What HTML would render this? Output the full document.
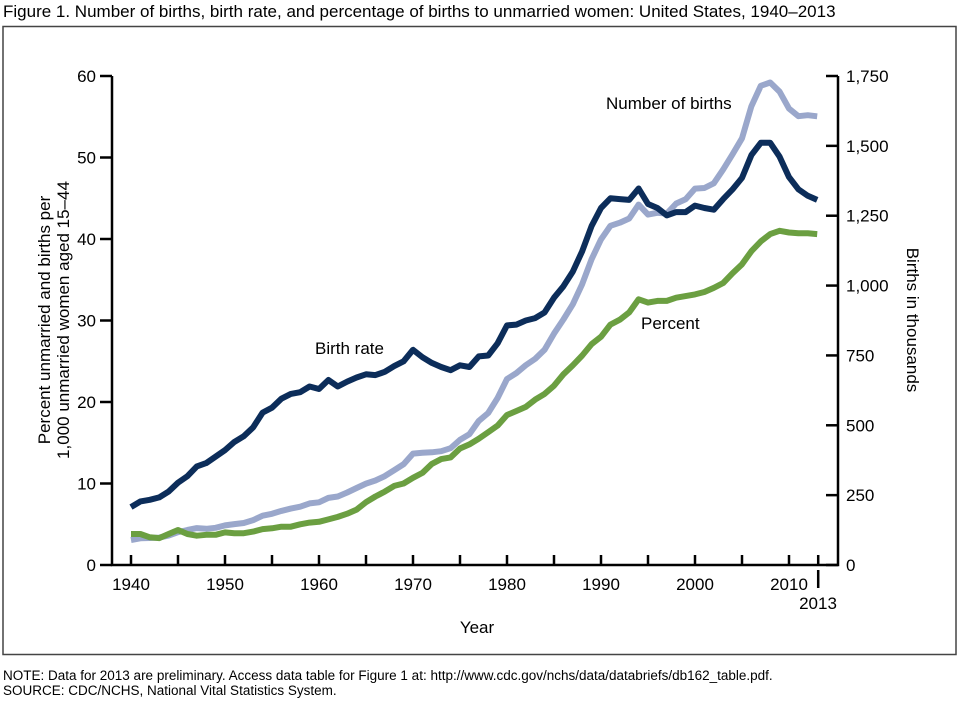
<!DOCTYPE html>
<html><head><meta charset="utf-8"><style>
body{margin:0;background:#fff;}
svg text{font-family:"Liberation Sans",Arial,sans-serif;fill:#000;}
</style></head><body>
<svg width="960" height="701" viewBox="0 0 960 701" xmlns="http://www.w3.org/2000/svg">
<text x="3" y="17" font-size="17">Figure 1. Number of births, birth rate, and percentage of births to unmarried women: United States, 1940–2013</text>
<rect x="3" y="26.5" width="953" height="628" fill="none" stroke="#444" stroke-width="1.5"/>
<g id="plot"></g>
<g stroke="#000" stroke-width="2.5" fill="none">
<path d="M112 76V565H838V76"/>
</g>
<g id="ticks" stroke="#000" stroke-width="2.5"></g>
<g font-size="17" text-anchor="end" id="yl"></g>
<g font-size="17" id="yr"></g>
<g font-size="17" text-anchor="middle" id="xl"></g>
<text x="818" y="609" font-size="17" text-anchor="middle">2013</text>
<text x="477" y="633" font-size="17" text-anchor="middle">Year</text>
<text transform="translate(50,320) rotate(-90)" font-size="17" text-anchor="middle">Percent unmarried and births per</text>
<text transform="translate(69,320) rotate(-90)" font-size="17" text-anchor="middle">1,000 unmarried women aged 15–44</text>
<text transform="translate(907,320) rotate(90)" font-size="17" text-anchor="middle">Births in thousands</text>
<text x="606" y="109" font-size="17">Number of births</text>
<text x="315" y="354" font-size="17">Birth rate</text>
<text x="641" y="329" font-size="17">Percent</text>
<text x="3" y="680" font-size="13.5">NOTE: Data for 2013 are preliminary. Access data table for Figure 1 at: http://www.cdc.gov/nchs/data/databriefs/db162_table.pdf.</text>
<text x="3" y="695" font-size="13.5">SOURCE: CDC/NCHS, National Vital Statistics System.</text>
</svg>
<script>
var rate=[7.1,7.8,8.0,8.3,9.0,10.1,10.9,12.1,12.5,13.3,14.1,15.1,15.8,16.9,18.7,19.3,20.4,21.0,21.2,21.9,21.6,22.7,21.9,22.5,23.0,23.4,23.3,23.7,24.4,25.0,26.4,25.5,24.8,24.3,23.9,24.5,24.3,25.6,25.7,27.2,29.4,29.5,30.0,30.3,31.0,32.8,34.2,36.0,38.5,41.6,43.8,45.0,44.9,44.8,46.2,44.3,43.8,42.9,43.3,43.3,44.1,43.8,43.6,44.9,46.1,47.5,50.3,51.8,51.8,50.1,47.6,46.1,45.3,44.8];
var pct=[3.8,3.8,3.4,3.3,3.8,4.3,3.8,3.6,3.7,3.7,4.0,3.9,3.9,4.1,4.4,4.5,4.7,4.7,5.0,5.2,5.3,5.6,5.9,6.3,6.8,7.7,8.4,9.0,9.7,10.0,10.7,11.3,12.4,13.0,13.2,14.3,14.8,15.5,16.3,17.1,18.4,18.9,19.4,20.3,21.0,22.0,23.4,24.5,25.7,27.1,28.0,29.5,30.1,31.0,32.6,32.2,32.4,32.4,32.8,33.0,33.2,33.5,34.0,34.6,35.8,36.9,38.5,39.7,40.6,41.0,40.8,40.7,40.7,40.6];
var nb=[89.5,95.7,96.5,98.1,105.2,117.4,125.2,131.9,129.7,133.2,141.6,146.5,150.3,160.8,176.6,183.3,193.5,201.7,208.7,220.6,224.3,240.2,245.1,259.4,275.7,291.2,302.4,318.1,339.2,360.8,398.7,401.4,403.2,407.3,418.1,447.9,468.1,515.7,543.9,597.8,665.7,686.6,715.2,737.9,770.4,828.2,878.5,933.0,1005.3,1094.2,1165.4,1213.8,1224.9,1240.2,1289.6,1253.9,1260.3,1257.4,1293.6,1308.6,1347.0,1349.2,1366.0,1415.8,1470.2,1527.0,1641.9,1715.0,1726.6,1693.7,1633.5,1606.0,1609.6,1605.6];
function X(i){return 131+i*9.4;}function Y(v){return 565-v*8.15;}
function path(a,f,c){var d=a.map(function(v,i){return (i?'L':'M')+X(i).toFixed(1)+' '+Y(f(v)).toFixed(1);}).join('');
return '<path d="'+d+'" fill="none" stroke="'+c+'" stroke-width="6" stroke-linejoin="round"/>';}
var ns='';
ns+=path(nb,function(v){return v*60/1750;},'#9aa7cb');
ns+=path(pct,function(v){return v;},'#6b9f41');
ns+=path(rate,function(v){return v;},'#0c2d5a');
document.getElementById('plot').innerHTML=ns;
var t='',yl='',yr='',xl='';
for(var k=0;k<=6;k++){var y=Y(k*10);t+='<line x1="100" x2="112" y1="'+y+'" y2="'+y+'"/>';yl+='<text x="96" y="'+(y+6)+'">'+k*10+'</text>';}
var rl=['0','250','500','750','1,000','1,250','1,500','1,750'];
for(var k=0;k<=7;k++){var y=Y(k*250*60/1750);t+='<line x1="826" x2="838" y1="'+y+'" y2="'+y+'"/>';yr+='<text x="846" y="'+(y+6)+'">'+rl[k]+'</text>';}
for(var yr2=1940;yr2<=2010;yr2+=5){var x=X(yr2-1940);t+='<line x1="'+x+'" x2="'+x+'" y1="555" y2="565"/>';if(yr2%10==0)xl+='<text x="'+x+'" y="590">'+yr2+'</text>';}
var x13=X(73)+1;t+='<line x1="'+x13+'" x2="'+x13+'" y1="555" y2="565"/><line x1="'+x13+'" x2="'+x13+'" y1="570" y2="588"/>';
document.getElementById('ticks').innerHTML=t;document.getElementById('yl').innerHTML=yl;document.getElementById('yr').innerHTML=yr;document.getElementById('xl').innerHTML=xl;
</script>
</body></html>
